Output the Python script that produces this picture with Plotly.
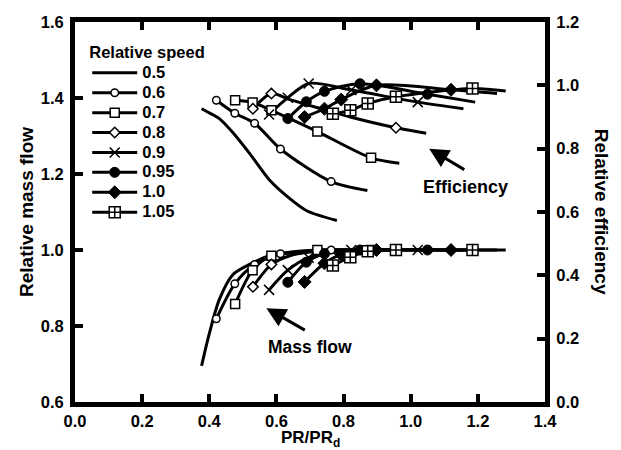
import plotly.graph_objects as go

speeds = ["0.5", "0.6", "0.7", "0.8", "0.9", "0.95", "1.0", "1.05"]

# PR/PR_d, relative efficiency, relative mass flow, marked points (1 = marker drawn)
pr_05 = [0.377, 0.40, 0.43, 0.47, 0.52, 0.58, 0.64, 0.69, 0.78]
eff_05 = [0.926, 0.913, 0.895, 0.851, 0.785, 0.70, 0.642, 0.604, 0.573]
mass_05 = [0.695, 0.78, 0.87, 0.935, 0.962, 0.985, 0.992, 0.997, 1.0]
mark_05 = [0, 0, 0, 0, 0, 0, 0, 0, 0]

pr_06 = [0.421, 0.476, 0.535, 0.612, 0.763, 0.871]
eff_06 = [0.953, 0.912, 0.880, 0.799, 0.696, 0.668]
mass_06 = [0.819, 0.911, 0.962, 0.99, 1.0, 1.0]
mark_06 = [1, 1, 1, 1, 1, 0]

pr_07 = [0.477, 0.529, 0.585, 0.722, 0.882, 0.966]
eff_07 = [0.953, 0.946, 0.921, 0.854, 0.771, 0.754]
mass_07 = [0.858, 0.947, 0.985, 1.0, 1.0, 1.0]
mark_07 = [1, 1, 1, 1, 1, 0]

pr_08 = [0.53, 0.585, 0.64, 0.72, 0.82, 0.956, 1.046]
eff_08 = [0.926, 0.974, 0.955, 0.93, 0.90, 0.866, 0.849]
mass_08 = [0.903, 0.962, 0.985, 0.997, 1.0, 1.0, 1.0]
mark_08 = [1, 1, 0, 0, 0, 1, 0]

pr_09 = [0.578, 0.634, 0.696, 0.823, 1.021, 1.157]
eff_09 = [0.908, 0.961, 1.006, 0.985, 0.947, 0.926]
mass_09 = [0.895, 0.947, 0.98, 1.0, 1.0, 1.0]
mark_09 = [1, 1, 1, 1, 1, 0]

pr_095 = [0.634, 0.689, 0.743, 0.849, 1.05, 1.192]
eff_095 = [0.895, 0.948, 0.981, 1.005, 0.972, 0.947]
mass_095 = [0.915, 0.968, 0.99, 1.0, 1.0, 1.0]
mark_095 = [1, 1, 1, 1, 1, 0]

pr_10 = [0.684, 0.743, 0.793, 0.898, 1.12, 1.257]
eff_10 = [0.90, 0.926, 0.955, 1.0, 0.986, 0.974]
mass_10 = [0.916, 0.965, 0.988, 1.0, 1.0, 1.0]
mark_10 = [1, 1, 1, 1, 1, 0]

pr_105 = [0.768, 0.82, 0.872, 0.956, 1.184, 1.283]
eff_105 = [0.91, 0.921, 0.943, 0.964, 0.99, 0.982]
mass_105 = [0.959, 0.981, 0.997, 1.0, 1.0, 1.0]
mark_105 = [1, 1, 1, 1, 1, 0]

x_ticks = [0.0, 0.2, 0.4, 0.6, 0.8, 1.0, 1.2, 1.4]
series = [
    (pr_05, eff_05, mass_05, mark_05),
    (pr_06, eff_06, mass_06, mark_06),
    (pr_07, eff_07, mass_07, mark_07),
    (pr_08, eff_08, mass_08, mark_08),
    (pr_09, eff_09, mass_09, mark_09),
    (pr_095, eff_095, mass_095, mark_095),
    (pr_10, eff_10, mass_10, mark_10),
    (pr_105, eff_105, mass_105, mark_105),
]

BLACK = "black"
marker_styles = [
    None,
    dict(symbol="circle", size=7.5, color="white", line=dict(color=BLACK, width=1.5)),
    dict(symbol="square", size=9, color="white", line=dict(color=BLACK, width=1.5)),
    dict(symbol="diamond", size=8, color="white", line=dict(color=BLACK, width=1.5)),
    dict(symbol="x-thin", size=10, color=BLACK, line=dict(color=BLACK, width=1.5)),
    dict(symbol="circle", size=10, color=BLACK, line=dict(color=BLACK, width=1)),
    dict(symbol="diamond", size=10, color=BLACK, line=dict(color=BLACK, width=1)),
    dict(symbol="square-cross", size=11, color="white", line=dict(color=BLACK, width=1.5)),
]

LW = 3
fig = go.Figure()

# curves
for (pr, eff, mass, mark) in series:
    fig.add_trace(go.Scatter(x=pr, y=eff, yaxis="y2", mode="lines", showlegend=False,
                             line=dict(color=BLACK, width=LW, shape="spline", smoothing=0.8),
                             hoverinfo="skip"))
    fig.add_trace(go.Scatter(x=pr, y=mass, yaxis="y", mode="lines", showlegend=False,
                             line=dict(color=BLACK, width=LW, shape="spline", smoothing=0.8),
                             hoverinfo="skip"))

# markers
for (pr, eff, mass, mark), ms in zip(series, marker_styles):
    if ms is None:
        continue
    px = [p for p, m in zip(pr, mark) if m]
    pe = [e for e, m in zip(eff, mark) if m]
    pm = [v for v, m in zip(mass, mark) if m]
    fig.add_trace(go.Scatter(x=px, y=pe, yaxis="y2", mode="markers", marker=ms,
                             showlegend=False, hoverinfo="skip"))
    fig.add_trace(go.Scatter(x=px, y=pm, yaxis="y", mode="markers", marker=ms,
                             showlegend=False, hoverinfo="skip"))

# legend entries
for name, ms in zip(speeds, marker_styles):
    kw = dict(mode="lines") if ms is None else dict(mode="lines+markers", marker=ms)
    fig.add_trace(go.Scatter(x=[None], y=[None],
                             name='<span style="font-size:16.5px">' + name + "</span>",
                             line=dict(color=BLACK, width=LW), showlegend=True, **kw))

FAM = "Liberation Sans, Arial, sans-serif"
bold = dict(family=FAM, size=16.5, color=BLACK, weight="bold")
title_font = dict(family=FAM, size=19, color=BLACK, weight="bold")
axis_common = dict(showline=True, linewidth=5, linecolor=BLACK, ticks="inside", ticklen=8,
                   tickwidth=4, tickcolor=BLACK, showgrid=False, zeroline=False,
                   tickfont=bold, tickformat=".1f", automargin=False)

fig.update_layout(
    width=621, height=450,
    margin=dict(l=75, r=76, t=22, b=48),
    plot_bgcolor="white", paper_bgcolor="white",
    font=bold,
    xaxis=dict(range=[0, 1.4], tickvals=x_ticks, mirror="ticks", ticklabelstandoff=0,
               **axis_common),
    yaxis=dict(range=[0.6, 1.6], dtick=0.2, ticklabelstandoff=3,
               title=dict(text="Relative mass flow", font=title_font, standoff=4),
               **axis_common),
    yaxis2=dict(range=[0, 1.2], dtick=0.2, overlaying="y", side="right", ticklabelstandoff=3,
                **axis_common),
    legend=dict(x=0.026, y=0.962, xanchor="left", yanchor="top", bgcolor="rgba(0,0,0,0)",
                font=dict(family=FAM, size=13, color=BLACK, weight="bold"),
                title=dict(text="Relative speed", font=bold), tracegroupgap=0,
                itemwidth=45),
    showlegend=True,
)

fig.add_annotation(text="PR/PR<sub>d</sub>", xref="paper", yref="paper", x=0.5, y=-0.064,
                   xanchor="center", yanchor="top", showarrow=False,
                   font=dict(family=FAM, size=17, color=BLACK, weight="bold"))
fig.add_annotation(text="Relative efficiency", xref="paper", yref="paper", x=1.122, y=0.5,
                   xanchor="center", yanchor="middle", textangle=90, showarrow=False,
                   font=title_font)
fig.add_annotation(text="Efficiency", x=1.162, y=0.68, xref="x", yref="y2", showarrow=False,
                   font=dict(family=FAM, size=18, color=BLACK, weight="bold"))
fig.add_annotation(text="", x=1.055, y=0.80, ax=1.164, ay=0.731, xref="x", yref="y2",
                   axref="x", ayref="y2", showarrow=True, arrowhead=2, arrowwidth=3,
                   arrowsize=1.3, arrowcolor=BLACK)
fig.add_annotation(text="Mass flow", x=0.699, y=0.745, xref="x", yref="y", showarrow=False,
                   font=dict(family=FAM, size=17.5, color=BLACK, weight="bold"))
fig.add_annotation(text="", x=0.57, y=0.847, ax=0.689, ay=0.787, xref="x", yref="y",
                   axref="x", ayref="y", showarrow=True, arrowhead=2, arrowwidth=3,
                   arrowsize=1.3, arrowcolor=BLACK)

fig.write_html("out.html")
